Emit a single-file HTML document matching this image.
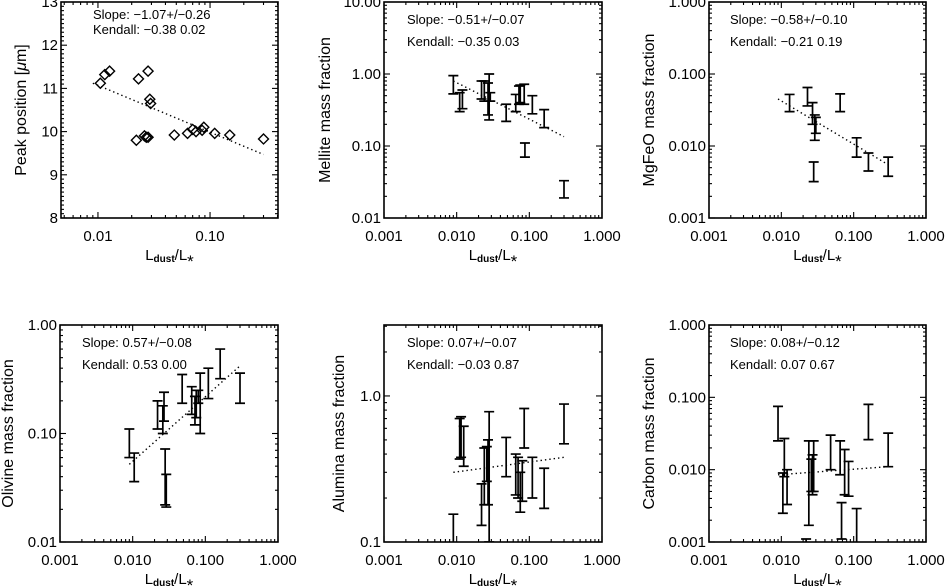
<!DOCTYPE html>
<html><head><meta charset="utf-8"><style>
body{margin:0;background:#fff;}
svg{display:block;font-family:"Liberation Sans",sans-serif;}
</style></head><body>
<svg id="fig" width="946" height="588" viewBox="0 0 946 588"></svg>
<script>
// ---- data ----
const peakX=[0.0105,0.0115,0.0127,0.023,0.028,0.029,0.0295,0.022,0.026,0.027,0.028,0.048,0.063,0.07,0.075,0.085,0.088,0.11,0.15,0.3];
const peakY=[11.12,11.32,11.4,11.22,11.4,10.75,10.65,9.8,9.9,9.87,9.87,9.92,9.96,10.05,10.0,10.03,10.1,9.96,9.92,9.83];
const peakFit=[[0.009,11.12],[0.3,9.47]];

const melX=[0.009,0.011,0.012,0.022,0.024,0.027,0.028,0.029,0.048,0.065,0.072,0.075,0.085,0.11,0.16,0.087,0.3];
const melLo=[0.53,0.3,0.33,0.45,0.42,0.27,0.23,0.42,0.22,0.3,0.38,0.4,0.38,0.28,0.18,0.07,0.019];
const melHi=[0.95,0.55,0.6,0.8,0.8,0.75,1.0,0.55,0.38,0.52,0.68,0.7,0.72,0.5,0.32,0.11,0.033];
const melFit=[[0.009,0.8],[0.3,0.135]];

const mgX=[0.013,0.023,0.027,0.028,0.029,0.03,0.065,0.11,0.16,0.3];
const mgLo=[0.03,0.036,0.02,0.0032,0.012,0.015,0.03,0.007,0.0045,0.0038];
const mgHi=[0.052,0.065,0.04,0.006,0.027,0.025,0.053,0.013,0.008,0.007];
const mgFit=[[0.009,0.045],[0.3,0.0055]];

const olX=[0.009,0.0105,0.022,0.026,0.027,0.028,0.029,0.048,0.065,0.072,0.075,0.085,0.08,0.11,0.16,0.3];
const olLo=[0.06,0.036,0.11,0.1,0.13,0.022,0.021,0.19,0.15,0.12,0.14,0.1,0.19,0.21,0.32,0.19];
const olHi=[0.11,0.066,0.2,0.18,0.24,0.072,0.042,0.35,0.27,0.22,0.25,0.36,0.25,0.4,0.6,0.36];
const olFit=[[0.009,0.052],[0.3,0.42]];

const alX=[0.009,0.011,0.0115,0.0125,0.022,0.024,0.026,0.027,0.028,0.048,0.065,0.07,0.075,0.085,0.08,0.11,0.16,0.3];
const alLo=[0.09,0.37,0.38,0.33,0.13,0.18,0.26,0.18,0.1,0.28,0.21,0.2,0.16,0.44,0.19,0.2,0.17,0.47];
const alHi=[0.155,0.7,0.72,0.62,0.25,0.44,0.45,0.5,0.78,0.52,0.4,0.38,0.3,0.82,0.36,0.38,0.32,0.88];
const alFit=[[0.009,0.3],[0.3,0.38]];

const caX=[0.009,0.0105,0.011,0.012,0.022,0.024,0.026,0.027,0.028,0.048,0.065,0.068,0.075,0.085,0.11,0.16,0.3];
const caLo=[0.025,0.0025,0.008,0.0033,0.0009,0.0017,0.005,0.0045,0.005,0.01,0.0085,0.0011,0.0045,0.0043,0.0008,0.026,0.011];
const caHi=[0.075,0.009,0.027,0.01,0.0011,0.025,0.014,0.016,0.025,0.03,0.025,0.0035,0.019,0.013,0.0029,0.08,0.032];
const caFit=[[0.009,0.0085],[0.3,0.011]];

const ns="http://www.w3.org/2000/svg";
const svg=document.getElementById('fig');
function mk(tag,attrs,parent){const e=document.createElementNS(ns,tag);for(const k in attrs)e.setAttribute(k,attrs[k]);(parent||svg).appendChild(e);return e;}

function panel(cfg){
  const g=mk('g',{});
  
  
  const L=cfg.box[0],T=cfg.box[1],R=cfg.box[2],B=cfg.box[3];
  const lx0=Math.log10(cfg.xr[0]),lx1=Math.log10(cfg.xr[1]);
  const X=v=>L+(Math.log10(v)-lx0)/(lx1-lx0)*(R-L);
  let Y;
  if(cfg.ylog){const a=Math.log10(cfg.yr[0]),b=Math.log10(cfg.yr[1]);Y=v=>B-(Math.log10(v)-a)/(b-a)*(B-T);}
  else Y=v=>B-(v-cfg.yr[0])/(cfg.yr[1]-cfg.yr[0])*(B-T);
  const clip='c'+cfg.name;
  const cp=mk('clipPath',{id:clip},g);mk('rect',{x:L,y:T,width:R-L,height:B-T},cp);
  const fr=mk('rect',{x:L,y:T,width:R-L,height:B-T,fill:'none',stroke:'#000','stroke-width':1.6},g);
  
  
  const tk=mk('g',{stroke:'#000','stroke-width':1.1},g);
  for(let d=-4;d<=1;d++)for(let m=1;m<10;m++){const v=m*Math.pow(10,d);const lv=Math.log10(v);if(lv<lx0-1e-9||lv>lx1+1e-9)continue;
    const x=X(v),len=m==1?6:3;
    mk('line',{x1:x,y1:B,x2:x,y2:B-len},tk);mk('line',{x1:x,y1:T,x2:x,y2:T+len},tk);}
  if(cfg.ylog){const a=Math.log10(cfg.yr[0]),b=Math.log10(cfg.yr[1]);
    for(let d=-4;d<=1;d++)for(let m=1;m<10;m++){const v=m*Math.pow(10,d);const lv=Math.log10(v);if(lv<a-1e-9||lv>b+1e-9)continue;
      const y=Y(v),len=m==1?6:3;mk('line',{x1:L,y1:y,x2:L+len,y2:y},tk);mk('line',{x1:R,y1:y,x2:R-len,y2:y},tk);}}
  else{for(let v=cfg.yr[0];v<=cfg.yr[1]+1e-9;v+=0.1){const y=Y(v);const maj=Math.abs(v-Math.round(v))<1e-6;const len=maj?6:3;
      mk('line',{x1:L,y1:y,x2:L+len,y2:y},tk);mk('line',{x1:R,y1:y,x2:R-len,y2:y},tk);}}
  cfg.xt.forEach((t,i)=>{const e=mk('text',{x:X(t),y:B+23,'font-size':15,'text-anchor':'middle'},g);e.textContent=cfg.xtl[i];
    
    });
  cfg.yt.forEach((t,i)=>{const e=mk('text',{x:L-3,y:Y(t)+5,'font-size':15,'text-anchor':'end'},g);e.textContent=cfg.ytl[i];
    
    });
  const xt=mk('text',{x:(L+R)/2,y:B+42,'font-size':15,'text-anchor':'middle'},g);
  xt.innerHTML='L<tspan font-size="10" dy="2" font-weight="bold">dust</tspan><tspan dy="-2">/L</tspan><tspan font-size="17" dy="7">*</tspan>';
  
  
  const yt=mk('text',{x:cfg.ytx,y:(T+B)/2,'font-size':16,'text-anchor':'middle',transform:'rotate(-90 '+cfg.ytx+' '+((T+B)/2)+')'},g);
  yt.innerHTML=cfg.ytitle;
  
  
  const a1=mk('text',{x:cfg.ann[0],y:cfg.ann[1],'font-size':13},g);a1.textContent=cfg.slope;
  
  
  const a2=mk('text',{x:cfg.ann[0],y:cfg.ann[2],'font-size':13},g);a2.textContent=cfg.kendall;
  
  
  const mg=mk('g',{'clip-path':'url(#'+clip+')'},g);
  const f=cfg.fit;
  const fl=mk('line',{x1:X(f[0][0]),y1:Y(f[0][1]),x2:X(f[1][0]),y2:Y(f[1][1]),stroke:'#000','stroke-width':1.4,'stroke-dasharray':'1.4 3'},mg);
  
  
  if(cfg.pts){cfg.pts[0].forEach((xv,i)=>{const x=X(xv),y=Y(cfg.pts[1][i]);
      const p=mk('path',{d:`M${x-5} ${y}L${x} ${y-5}L${x+5} ${y}L${x} ${y+5}Z`,fill:'none',stroke:'#000','stroke-width':1.4},mg);
      
      });}
  if(cfg.eb){cfg.eb[0].forEach((xv,i)=>{const x=X(xv),y0=Y(cfg.eb[1][i]),y1=Y(cfg.eb[2][i]);
      const p=mk('path',{d:`M${x} ${y0}V${y1}M${x-5} ${y0}H${x+5}M${x-5} ${y1}H${x+5}`,fill:'none',stroke:'#000','stroke-width':1.7},mg);
      
      });}
}
const xT=[0.001,0.01,0.1,1],xTL=['0.001','0.010','0.100','1.000'];
panel({name:'peak-position-panel',box:[61,2,278,218],xr:[0.00468,0.404],yr:[8,13],ylog:false,
  xt:[0.01,0.1],xtl:['0.01','0.10'],yt:[8,9,10,11,12,13],ytl:['8','9','10','11','12','13'],
  ytx:26,ytitle:'Peak position [<tspan font-style="italic">μ</tspan>m]',ann:[93,19,34],
  slope:'Slope: −1.07+/−0.26',kendall:'Kendall: −0.38 0.02',fit:peakFit,pts:[peakX,peakY]});
panel({name:'mellite-panel',box:[384,2,602,218],xr:[0.001,1],yr:[0.01,10],ylog:true,
  xt:xT,xtl:xTL,yt:[0.01,0.1,1,10],ytl:['0.01','0.10','1.00','10.00'],
  ytx:330,ytitle:'Mellite mass fraction',ann:[407,24,46],
  slope:'Slope: −0.51+/−0.07',kendall:'Kendall: −0.35 0.03',fit:melFit,eb:[melX,melLo,melHi]});
panel({name:'mgfeo-panel',box:[709,2,926,218],xr:[0.001,1],yr:[0.001,1],ylog:true,
  xt:xT,xtl:xTL,yt:[0.001,0.01,0.1,1],ytl:['0.001','0.010','0.100','1.000'],
  ytx:654,ytitle:'MgFeO mass fraction',ann:[730,24,46],
  slope:'Slope: −0.58+/−0.10',kendall:'Kendall: −0.21 0.19',fit:mgFit,eb:[mgX,mgLo,mgHi]});
panel({name:'olivine-panel',box:[60,325,278,542],xr:[0.001,1],yr:[0.01,1],ylog:true,
  xt:xT,xtl:xTL,yt:[0.01,0.1,1],ytl:['0.01','0.10','1.00'],
  ytx:13,ytitle:'Olivine mass fraction',ann:[82,347,369],
  slope:'Slope: 0.57+/−0.08',kendall:'Kendall: 0.53 0.00',fit:olFit,eb:[olX,olLo,olHi]});
panel({name:'alumina-panel',box:[384,325,602,542],xr:[0.001,1],yr:[0.1,3.06],ylog:true,
  xt:xT,xtl:xTL,yt:[0.1,1],ytl:['0.1','1.0'],
  ytx:344,ytitle:'Alumina mass fraction',ann:[407,347,369],
  slope:'Slope: 0.07+/−0.07',kendall:'Kendall: −0.03 0.87',fit:alFit,eb:[alX,alLo,alHi]});
panel({name:'carbon-panel',box:[709,325,926,542],xr:[0.001,1],yr:[0.001,1],ylog:true,
  xt:xT,xtl:xTL,yt:[0.001,0.01,0.1,1],ytl:['0.001','0.010','0.100','1.000'],
  ytx:654,ytitle:'Carbon mass fraction',ann:[730,347,369],
  slope:'Slope: 0.08+/−0.12',kendall:'Kendall: 0.07 0.67',fit:caFit,eb:[caX,caLo,caHi]});
</script>
</body></html>
